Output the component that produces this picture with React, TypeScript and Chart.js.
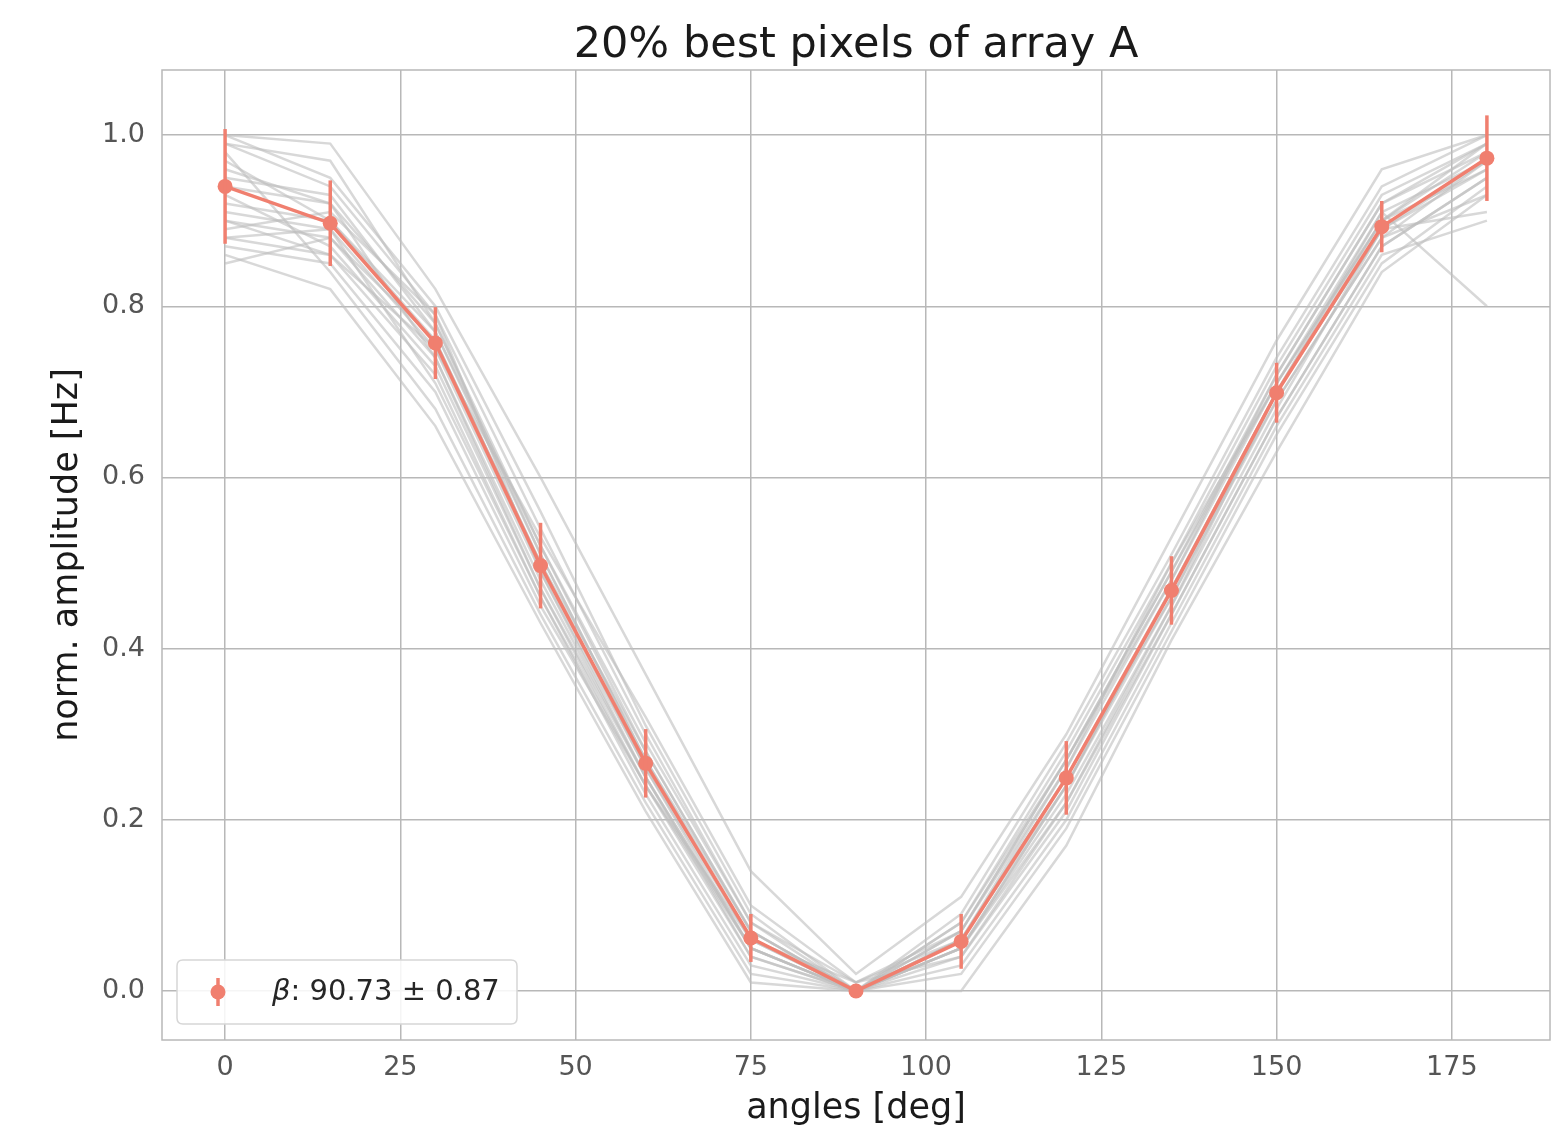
import React, { useEffect, useRef } from "react";
import { Chart, registerables } from "chart.js";

Chart.register(...registerables);

// ---- data ----
const angles = [0, 15, 30, 45, 60, 75, 90, 105, 120, 135, 150, 165, 180];
const meanAmplitude = [0.94, 0.897, 0.757, 0.497, 0.266, 0.062, 0.0, 0.058, 0.249, 0.468, 0.699, 0.893, 0.973];
const meanError = [0.067, 0.05, 0.042, 0.05, 0.04, 0.028, 0.005, 0.032, 0.043, 0.04, 0.035, 0.03, 0.05];

const pixel01 = [1.0, 0.99, 0.82, 0.6, 0.37, 0.14, 0.02, 0.11, 0.3, 0.53, 0.76, 0.96, 1.0];
const pixel02 = [0.86, 0.82, 0.66, 0.43, 0.21, 0.01, 0.0, 0.0, 0.17, 0.41, 0.63, 0.84, 0.93];
const pixel03 = [0.99, 0.97, 0.78, 0.52, 0.28, 0.07, 0.0, 0.05, 0.24, 0.47, 0.7, 0.91, 0.8];
const pixel04 = [0.9, 0.88, 0.74, 0.48, 0.25, 0.05, 0.0, 0.06, 0.25, 0.46, 0.69, 0.88, 0.97];
const pixel05 = [0.95, 0.93, 0.77, 0.51, 0.27, 0.06, 0.01, 0.07, 0.26, 0.48, 0.71, 0.9, 0.99];
const pixel06 = [0.88, 0.86, 0.72, 0.46, 0.23, 0.03, 0.0, 0.04, 0.22, 0.44, 0.67, 0.87, 0.95];
const pixel07 = [1.0, 0.95, 0.8, 0.56, 0.31, 0.09, 0.0, 0.08, 0.28, 0.5, 0.73, 0.93, 0.99];
const pixel08 = [0.91, 0.89, 0.75, 0.49, 0.26, 0.06, 0.0, 0.05, 0.23, 0.45, 0.68, 0.89, 0.91];
const pixel09 = [0.87, 0.85, 0.7, 0.45, 0.24, 0.05, 0.0, 0.03, 0.2, 0.43, 0.66, 0.86, 0.9];
const pixel10 = [0.97, 0.9, 0.76, 0.5, 0.28, 0.07, 0.0, 0.07, 0.27, 0.49, 0.72, 0.92, 0.98];
const pixel11 = [0.93, 0.87, 0.73, 0.47, 0.24, 0.04, 0.0, 0.06, 0.25, 0.47, 0.7, 0.89, 0.96];
const pixel12 = [0.89, 0.91, 0.79, 0.54, 0.3, 0.08, 0.0, 0.09, 0.29, 0.51, 0.74, 0.94, 1.0];
const pixel13 = [0.98, 0.84, 0.68, 0.44, 0.22, 0.02, 0.0, 0.02, 0.19, 0.42, 0.65, 0.85, 0.94];
const pixel14 = [0.92, 0.9, 0.77, 0.52, 0.29, 0.08, 0.01, 0.06, 0.24, 0.46, 0.7, 0.9, 0.98];
const pixel15 = [0.85, 0.88, 0.76, 0.5, 0.26, 0.05, 0.0, 0.05, 0.24, 0.47, 0.69, 0.88, 0.93];
const pixel16 = [0.96, 0.92, 0.74, 0.47, 0.25, 0.04, 0.0, 0.07, 0.27, 0.49, 0.71, 0.91, 0.97];
const pixel17 = [0.9, 0.86, 0.75, 0.53, 0.32, 0.1, 0.01, 0.04, 0.21, 0.44, 0.67, 0.87, 0.95];
const pixel18 = [0.99, 0.94, 0.79, 0.49, 0.25, 0.05, 0.0, 0.08, 0.27, 0.48, 0.72, 0.92, 0.99];
const pixel19 = [0.88, 0.89, 0.71, 0.46, 0.24, 0.06, 0.0, 0.06, 0.26, 0.5, 0.71, 0.9, 0.96];
const pixel20 = [0.94, 0.92, 0.78, 0.51, 0.27, 0.07, 0.0, 0.05, 0.22, 0.45, 0.7, 0.89, 0.97];

const pixelCurves = [
  pixel01, pixel02, pixel03, pixel04, pixel05, pixel06, pixel07, pixel08, pixel09, pixel10,
  pixel11, pixel12, pixel13, pixel14, pixel15, pixel16, pixel17, pixel18, pixel19, pixel20,
];

const xTicks = [0, 25, 50, 75, 100, 125, 150, 175];
const yTicks = [0.0, 0.2, 0.4, 0.6, 0.8, 1.0];

const titleText = "20% best pixels of array A";
const xLabel = "angles [deg]";
const yLabel = "norm. amplitude [Hz]";
const legendSymbol = "β";
const legendValue = ": 90.73 ± 0.87";

// ---- styles ----
const FONT = "'DejaVu Sans', sans-serif";
const MAIN = "#f07f6f";
const GRAY = "rgba(190,190,190,0.6)";
const GRID = "#b8b8b8";

const errorBarPlugin = {
  id: "errorBars",
  afterDatasetsDraw(chart: any) {
    const { ctx, scales } = chart;
    const xs = scales.x;
    const ys = scales.y;
    ctx.save();
    ctx.strokeStyle = MAIN;
    ctx.lineWidth = 3.5;
    angles.forEach((a, i) => {
      const px = xs.getPixelForValue(a);
      const y1 = ys.getPixelForValue(meanAmplitude[i] + meanError[i]);
      const y2 = ys.getPixelForValue(meanAmplitude[i] - meanError[i]);
      ctx.beginPath();
      ctx.moveTo(px, y1);
      ctx.lineTo(px, y2);
      ctx.stroke();
    });
    ctx.restore();
  },
};

const framePlugin = {
  id: "frame",
  afterDraw(chart: any) {
    const { ctx, chartArea } = chart;
    const { left, right, top, bottom } = chartArea;
    ctx.save();
    ctx.strokeStyle = GRID;
    ctx.lineWidth = 1.5;
    ctx.strokeRect(left, top, right - left, bottom - top);

    // title centred over the plot area
    ctx.fillStyle = "#1a1a1a";
    ctx.font = `43px ${FONT}`;
    ctx.textAlign = "center";
    ctx.textBaseline = "alphabetic";
    ctx.fillText(titleText, (left + right) / 2, top - 13);

    // legend
    const bx = left + 15;
    const bw = 340;
    const bh = 64;
    const by = bottom - 16 - bh;
    const r = 6;
    ctx.beginPath();
    ctx.moveTo(bx + r, by);
    ctx.lineTo(bx + bw - r, by);
    ctx.quadraticCurveTo(bx + bw, by, bx + bw, by + r);
    ctx.lineTo(bx + bw, by + bh - r);
    ctx.quadraticCurveTo(bx + bw, by + bh, bx + bw - r, by + bh);
    ctx.lineTo(bx + r, by + bh);
    ctx.quadraticCurveTo(bx, by + bh, bx, by + bh - r);
    ctx.lineTo(bx, by + r);
    ctx.quadraticCurveTo(bx, by, bx + r, by);
    ctx.closePath();
    ctx.fillStyle = "rgba(255,255,255,0.85)";
    ctx.fill();
    ctx.strokeStyle = "#d6d6d6";
    ctx.lineWidth = 1.5;
    ctx.stroke();

    const mx = bx + 41;
    const my = by + bh / 2;
    ctx.strokeStyle = MAIN;
    ctx.lineWidth = 3.5;
    ctx.beginPath();
    ctx.moveTo(mx, my - 14);
    ctx.lineTo(mx, my + 14);
    ctx.stroke();
    ctx.fillStyle = MAIN;
    ctx.beginPath();
    ctx.arc(mx, my, 7.5, 0, Math.PI * 2);
    ctx.fill();

    ctx.fillStyle = "#262626";
    ctx.textBaseline = "middle";
    ctx.textAlign = "left";
    ctx.font = `italic 29px ${FONT}`;
    const tx = bx + 95;
    ctx.fillText(legendSymbol, tx, my);
    const w = ctx.measureText(legendSymbol).width;
    ctx.font = `29px ${FONT}`;
    ctx.fillText(legendValue, tx + w, my);
    ctx.restore();
  },
};

export default function App() {
  const canvasRef = useRef<HTMLCanvasElement | null>(null);

  useEffect(() => {
    const canvas = canvasRef.current;
    if (!canvas) return;

    const grayDatasets = pixelCurves.map((curve, k) => ({
      label: `pixel ${k + 1}`,
      data: angles.map((a, i) => ({ x: a, y: curve[i] })),
      showLine: true,
      borderColor: GRAY,
      borderWidth: 2.5,
      pointRadius: 0,
      pointHoverRadius: 0,
      fill: false,
    }));

    const chart = new Chart(canvas, {
      type: "scatter",
      data: {
        datasets: [
          {
            label: "mean",
            data: angles.map((a, i) => ({ x: a, y: meanAmplitude[i] })),
            showLine: true,
            borderColor: MAIN,
            backgroundColor: MAIN,
            borderWidth: 3.5,
            pointRadius: 7.5,
            pointBorderWidth: 0,
            fill: false,
          },
          ...grayDatasets,
        ],
      },
      options: {
        responsive: false,
        animation: false,
        devicePixelRatio: 1,
        layout: { padding: { left: 0, right: 18, top: 70, bottom: 0 } },
        plugins: {
          legend: { display: false },
          tooltip: { enabled: false },
          title: { display: false },
        },
        scales: {
          x: {
            type: "linear",
            min: -9,
            max: 189,
            afterFit: (s: any) => {
              s.height = 95;
            },
            afterBuildTicks: (s: any) => {
              s.ticks = xTicks.map((v) => ({ value: v }));
            },
            grid: { color: GRID, lineWidth: 1.5, drawTicks: false },
            border: { display: false },
            ticks: {
              color: "#555555",
              font: { family: FONT, size: 27 },
              padding: 12,
              maxRotation: 0,
              callback: (v: any) => String(v),
            },
            title: {
              display: true,
              text: xLabel,
              color: "#1a1a1a",
              font: { family: FONT, size: 35 },
              padding: { top: 0, bottom: 5 },
            },
          },
          y: {
            type: "linear",
            min: -0.0572,
            max: 1.076,
            afterFit: (s: any) => {
              s.width = 162;
            },
            afterBuildTicks: (s: any) => {
              s.ticks = yTicks.map((v) => ({ value: v }));
            },
            grid: { color: GRID, lineWidth: 1.5, drawTicks: false },
            border: { display: false },
            ticks: {
              color: "#555555",
              font: { family: FONT, size: 27 },
              padding: 17,
              callback: (v: any) => Number(v).toFixed(1),
            },
            title: {
              display: true,
              text: yLabel,
              color: "#1a1a1a",
              font: { family: FONT, size: 35 },
              padding: { top: 47, bottom: 0 },
            },
          },
        },
      },
      plugins: [errorBarPlugin, framePlugin],
    });

    return () => chart.destroy();
  }, []);

  return (
    <div style={{ position: "absolute", left: 0, top: 0, width: 1568, height: 1135, background: "#ffffff" }}>
      <canvas ref={canvasRef} width={1568} height={1135} style={{ display: "block" }} />
    </div>
  );
}
